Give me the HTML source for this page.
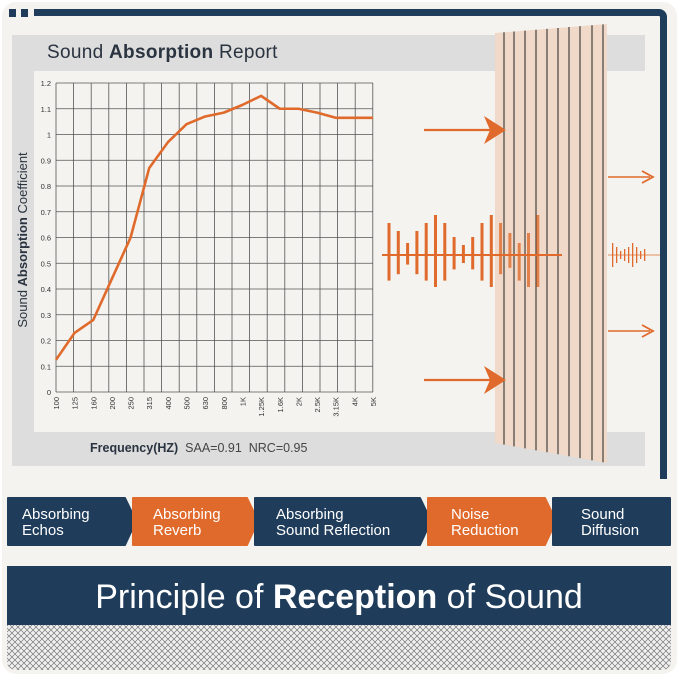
<!DOCTYPE html><html><head><style>
body{margin:0;width:679px;height:678px;background:#fff;font-family:"Liberation Sans",sans-serif;overflow:hidden;position:relative}
.a{position:absolute}
</style></head><body>
<div class="a" style="left:2px;top:2px;width:675px;height:672px;background:#f4f3ef;border-radius:14px"></div>
<div class="a" style="left:9px;top:9px;width:7px;height:8px;background:#1f3d5a"></div>
<div class="a" style="left:21px;top:9px;width:7px;height:8px;background:#1f3d5a"></div>
<div class="a" style="left:34px;top:9px;width:633px;height:470px;border-top:7px solid #1f3d5a;border-right:7px solid #1f3d5a;border-top-right-radius:8px;box-sizing:border-box"></div>
<div class="a" style="left:12px;top:35px;width:633px;height:431px;background:#dcdddc"></div>
<div class="a" style="left:34px;top:71px;width:611px;height:361px;background:#f4f3ef"></div>
<div class="a" style="left:47px;top:42px;font-size:19px;color:#2a3340;letter-spacing:0.3px">Sound <b>Absorption</b> Report</div>
<div class="a" style="left:90px;top:441px;font-size:12.5px;color:#2a3340"><b>Frequency(HZ)</b> &nbsp;<span style="color:#444">SAA=0.91&nbsp; NRC=0.95</span></div>
<svg class="a" style="left:0;top:0" width="679" height="678">
<g stroke="#555" stroke-width="0.8" id="grid"></g>
<g font-size="7.5" fill="#333" font-family="Liberation Sans">
</g>
</svg>
<svg class="a" style="left:0;top:0" width="679" height="678" id="s"></svg>
<script>
var s=document.getElementById('s'),h='';
var x0=56,dx=17.6,y0=392,dy=25.75;
for(var i=0;i<=18;i++)h+='<line x1="'+(x0+i*dx)+'" y1="83" x2="'+(x0+i*dx)+'" y2="392" stroke="#555" stroke-width="0.8"/>';
for(var j=0;j<=12;j++){var y=y0-j*dy;h+='<line x1="56" y1="'+y+'" x2="373" y2="'+y+'" stroke="#555" stroke-width="0.8"/>';
h+='<text x="51" y="'+(y+3)+'" font-size="7.5" text-anchor="end" fill="#333">'+(j==0?'0':j==10?'1':(j/10).toFixed(1))+'</text>';}
var L=['100','125','160','200','250','315','400','500','630','800','1K','1.25K','1.6K','2K','2.5K','3.15K','4K','5K'];
var D=[0.125,0.23,0.28,0.44,0.6,0.87,0.97,1.04,1.07,1.085,1.115,1.15,1.1,1.1,1.085,1.065,1.065,1.065];
var W=317/17,p='';
for(var k=0;k<18;k++){var x=x0+k*W;h+='<text transform="translate('+(x+3)+',397) rotate(-90)" font-size="7.5" text-anchor="end" fill="#333">'+L[k]+'</text>';p+=(k?'L':'M')+x+','+(y0-D[k]*10*dy);}
h+='<path d="'+p+'" fill="none" stroke="#e06a2c" stroke-width="2.6" stroke-linejoin="round"/>';
h+='<text transform="translate(27,240) rotate(-90)" font-size="13" text-anchor="middle" fill="#2a3340">Sound <tspan font-weight="bold">Absorption</tspan> Coefficient</text>';
// panel
h+='<polygon points="495,33 607,24 607,463 495,443" fill="#f0d9c9"/>';
var ls=[504,514,525,536,547,558,569,580,592,603];
ls.forEach(function(x){var t=33-(x-495)*9/112,b=443+(x-495)*20/112;h+='<line x1="'+x+'" y1="'+t+'" x2="'+x+'" y2="'+b+'" stroke="#222" stroke-width="1"/>';});
// arrows
[130,380].forEach(function(y){h+='<line x1="424" y1="'+y+'" x2="500" y2="'+y+'" stroke="#e06a2c" stroke-width="2.2"/><path d="M484,'+(y-14)+' L506,'+y+' L484,'+(y+14)+' L490,'+y+'Z" fill="#e06a2c"/>';});
[177,331].forEach(function(y){h+='<line x1="608" y1="'+y+'" x2="650" y2="'+y+'" stroke="#e06a2c" stroke-width="1.5"/><path d="M642,'+(y-6)+' L653,'+y+' L642,'+(y+6)+'" fill="none" stroke="#e06a2c" stroke-width="1.8"/>';});
// waveform
h+='<line x1="382" y1="255" x2="562" y2="255" stroke="#e06a2c" stroke-width="2"/>';
var up=[32,24,12,24,32,40,32,18,10,18,32,40,32,22,12,22,40],dn=[32,24,12,24,32,40,32,18,10,18,32,40,24,16,32,40,40];
for(var m=0;m<17;m++){var x=389+m*9.3;h+='<rect x="'+(x-1.5)+'" y="'+(255-up[m])+'" width="3" height="'+(up[m]+dn[m]*0.8)+'" fill="#e06a2c" opacity="'+(x>495?0.8:1)+'"/>';}
h+='<line x1="608" y1="255" x2="660" y2="255" stroke="#e06a2c" stroke-width="0.8"/>';
var sm=[12,8,4,6,8,12,8,4,6];for(var n=0;n<9;n++){var x=612+n*4;h+='<rect x="'+x+'" y="'+(255-sm[n])+'" width="1.3" height="'+(sm[n]*2)+'" fill="#e06a2c"/>';}
// buttons
var B=[[8,133,'#1f3d5a','Absorbing','Echos',22],[133,255,'#e06a2c','Absorbing','Reverb',153],[255,428,'#1f3d5a','Absorbing','Sound Reflection',276],[428,553,'#e06a2c','Noise','Reduction',451],[553,670,'#1f3d5a','Sound','Diffusion',581]];
B.forEach(function(b,i){var a=b[0],e=b[1],last=i==4;var pts=last?(a+','+498+' '+e+',498 '+e+',545 '+a+',545'):(a+',498 '+(e-8)+',498 '+(e+3)+',521 '+(e-8)+',545 '+a+',545');
h+='<polygon points="'+pts+'" fill="'+b[2]+'" stroke="'+b[2]+'" stroke-width="2" stroke-linejoin="round"/>';
h+='<text x="'+b[5]+'" y="519" font-size="15" fill="#fff">'+b[3]+'</text><text x="'+b[5]+'" y="535" font-size="15" fill="#fff">'+b[4]+'</text>';});
h+='<rect x="7" y="566" width="664" height="59" fill="#1f3d5a"/>';
h+='<text x="339" y="608" font-size="34" fill="#fff" text-anchor="middle">Principle of <tspan font-weight="bold">Reception</tspan> of Sound</text>';
h+='<defs><pattern id="pt" width="6" height="6" patternUnits="userSpaceOnUse"><rect width="6" height="6" fill="#f0f0f0"/><path d="M0,3 L3,0 L6,3 L3,6Z" fill="none" stroke="#777" stroke-width="0.7"/></pattern></defs>';
h+='<path d="M7,625 H671 V660 Q671,670 661,670 H17 Q7,670 7,660Z" fill="url(#pt)"/>';
s.innerHTML=h;
</script>
</body></html>
